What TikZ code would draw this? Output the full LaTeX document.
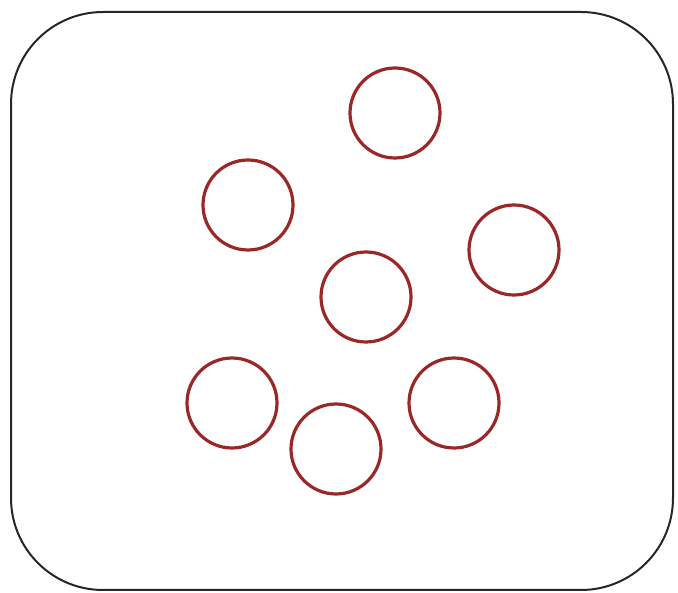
\documentclass[tikz,border=0pt]{standalone}
\definecolor{ringred}{RGB}{155,40,40}
\begin{document}
\begin{tikzpicture}[x=1pt,y=-1pt,line width=2pt,
  ring/.style={circle,draw=ringred,line width=3.2pt,minimum size=90pt,inner sep=0pt}]
\useasboundingbox (0,0) rectangle (678,593);
\draw[rounded corners=92pt,draw=black!85] (11,12) rectangle (673,590);
\foreach \x/\y/\i in {395/113/1,248/205/2,514/250/3,366/297/4,232/403/5,454/403/6,336/449/7}{\node[ring] (c\i) at (\x,\y) {};}
\end{tikzpicture}
\end{document}
